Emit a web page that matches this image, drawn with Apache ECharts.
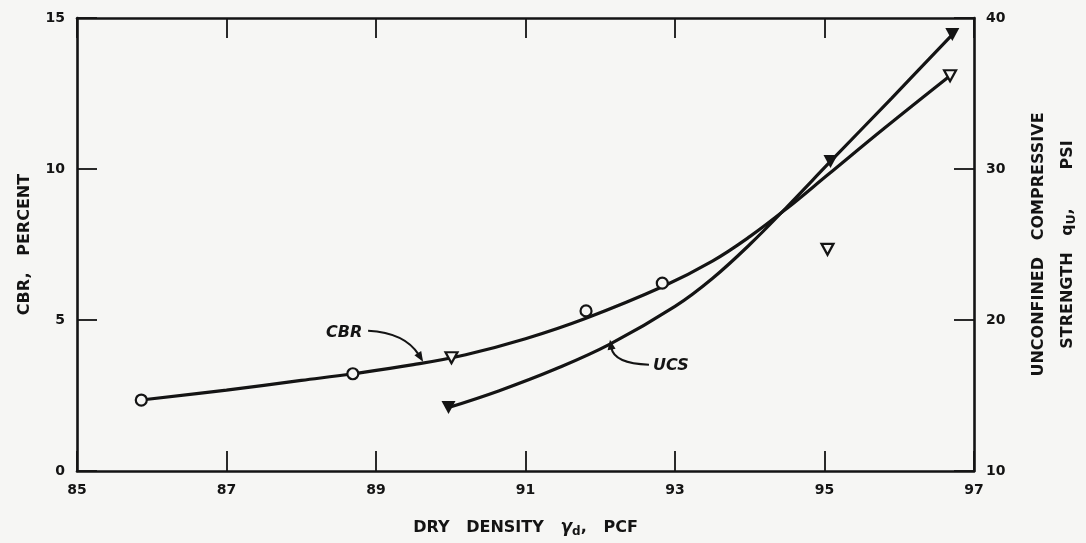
<!DOCTYPE html>
<html>
<head>
<meta charset="utf-8">
<script src="https://cdn.jsdelivr.net/npm/echarts@6/dist/echarts.min.js"></script>
<style>
html,body{margin:0;padding:0;background:#f6f6f4;}
#chart{width:1086px;height:543px;}
</style>
</head>
<body>
<div id="chart"></div>
<script>
// ---- data ----
var xTicks = [85, 87, 89, 91, 93, 95, 97];
var cbrTicks = [0, 5, 10, 15];
var ucsTicks = [10, 20, 30, 40];

// CBR test points (open circles) : [dry density, CBR %]
var cbrCircles = [[85.86, 2.35], [88.69, 3.22], [91.81, 5.30], [92.83, 6.22]];
// CBR test points (open triangles)
var cbrTriangles = [[90.01, 3.75], [95.04, 7.34], [96.68, 13.09]];
// UCS test points (filled triangles) : [dry density, q_u psi]
var ucsTriangles = [[89.97, 14.2], [95.08, 30.5], [96.71, 38.9]];

// fitted curves
var cbrCurve = [[85.86, 2.35], [87.0, 2.68], [88.0, 3.0], [88.69, 3.22], [89.5, 3.52], [90.2, 3.85], [91.0, 4.38],
                [91.8, 5.05], [92.83, 6.1], [93.5, 6.95], [94.0, 7.76], [94.5, 8.7], [95.04, 9.8], [95.8, 11.35], [96.68, 13.09]];
var ucsCurve = [[89.97, 14.2], [90.64, 15.3], [91.4, 16.75], [92.13, 18.4], [93.0, 20.9], [93.5, 22.75], [94.0, 25.0],
                [94.5, 27.5], [95.08, 30.5], [95.9, 34.7], [96.71, 38.9]];

var INK = '#141414';
var BG = '#f6f6f4';
var FONT = 'DejaVu Sans';

var chart = echarts.init(document.getElementById('chart'), null, {renderer: 'canvas'});

function axisBase(extra) {
  var a = {
    type: 'value',
    axisLine: {show: true, onZero: false, lineStyle: {color: INK, width: 2.6}},
    axisTick: {show: true, inside: true, length: 20, lineStyle: {color: INK, width: 1.8}},
    splitLine: {show: false},
    axisLabel: {color: INK, fontFamily: FONT, fontWeight: 'bold', fontSize: 14, margin: 12}
  };
  return Object.assign(a, extra);
}

var option = {
  backgroundColor: BG,
  animation: false,
  grid: {left: 77, right: 106, top: 18, bottom: 70},
  xAxis: [
    axisBase({
      min: xTicks[0], max: xTicks[xTicks.length - 1], interval: 2,
      position: 'bottom',
      name: '{t|DRY   DENSITY   }{g|γ}{s|d}{t|,   PCF}',
      nameLocation: 'middle', nameGap: 46,
      nameTextStyle: {
        rich: {
          t: {fontFamily: FONT, fontWeight: 'bold', fontSize: 16, color: INK},
          g: {fontFamily: FONT, fontWeight: 'bold', fontStyle: 'italic', fontSize: 17, color: INK},
          s: {fontFamily: FONT, fontWeight: 'bold', fontSize: 12, color: INK, padding: [9, 0, 0, 0]}
        }
      }
    }),
    axisBase({
      min: xTicks[0], max: xTicks[xTicks.length - 1], interval: 2,
      position: 'top',
      axisLabel: {show: false}
    })
  ],
  yAxis: [
    axisBase({
      min: cbrTicks[0], max: cbrTicks[cbrTicks.length - 1], interval: 5,
      position: 'left',
      name: 'CBR,   PERCENT',
      nameLocation: 'middle', nameRotate: 90, nameGap: 44,
      nameTextStyle: {fontFamily: FONT, fontWeight: 'bold', fontSize: 16, color: INK}
    }),
    axisBase({
      min: ucsTicks[0], max: ucsTicks[ucsTicks.length - 1], interval: 10,
      position: 'right',
      name: '{t|UNCONFINED   COMPRESSIVE}\n{t|STRENGTH   q}{s|U}{t|,       PSI}',
      nameLocation: 'middle', nameRotate: 90, nameGap: 50,
      nameTextStyle: {
        align: 'center',
        rich: {
          t: {fontFamily: FONT, fontWeight: 'bold', fontSize: 16, color: INK, lineHeight: 29},
          s: {fontFamily: FONT, fontWeight: 'bold', fontSize: 12, color: INK, padding: [9, 0, 0, 0], lineHeight: 29}
        }
      }
    })
  ],
  series: [
    {
      name: 'CBR curve', type: 'line', xAxisIndex: 0, yAxisIndex: 0,
      data: cbrCurve, smooth: 0.4, showSymbol: false,
      lineStyle: {color: INK, width: 3.2}, z: 2
    },
    {
      name: 'UCS curve', type: 'line', xAxisIndex: 0, yAxisIndex: 1,
      data: ucsCurve, smooth: 0.4, showSymbol: false,
      lineStyle: {color: INK, width: 3.2}, z: 2
    },
    {
      name: 'CBR circles', type: 'scatter', xAxisIndex: 0, yAxisIndex: 0,
      data: cbrCircles, symbol: 'circle', symbolSize: 11,
      itemStyle: {color: BG, borderColor: INK, borderWidth: 2.2, opacity: 1}, z: 5
    },
    {
      name: 'CBR triangles', type: 'scatter', xAxisIndex: 0, yAxisIndex: 0,
      data: cbrTriangles, symbol: 'triangle', symbolRotate: 180, symbolSize: [12, 11],
      itemStyle: {color: BG, borderColor: INK, borderWidth: 2.2, opacity: 1}, z: 5
    },
    {
      name: 'UCS triangles', type: 'scatter', xAxisIndex: 0, yAxisIndex: 1,
      data: ucsTriangles, symbol: 'triangle', symbolRotate: 180, symbolSize: [14, 13],
      itemStyle: {color: INK, opacity: 1}, z: 5
    }
  ]
};

chart.setOption(option);

// ---- curved arrow annotations ----
function arrow(tip, start, ctrl, text, textPos) {
  var dx = tip[0] - ctrl[0], dy = tip[1] - ctrl[1];
  var len = Math.sqrt(dx * dx + dy * dy);
  var ux = dx / len, uy = dy / len;
  var hl = 10, hw = 4;
  var bx = tip[0] - ux * hl, by = tip[1] - uy * hl;
  return [
    {
      type: 'bezierCurve', z: 10,
      shape: {x1: start[0], y1: start[1], cpx1: ctrl[0], cpy1: ctrl[1], x2: bx + ux * 2, y2: by + uy * 2},
      style: {stroke: INK, lineWidth: 2, fill: null}
    },
    {
      type: 'polygon', z: 10,
      shape: {points: [tip, [bx - uy * hw, by + ux * hw], [bx + uy * hw, by - ux * hw]]},
      style: {fill: INK}
    },
    {
      type: 'text', z: 10, x: textPos[0], y: textPos[1],
      style: {text: text, fill: INK, font: 'italic bold 16px "DejaVu Sans"', align: 'center', verticalAlign: 'middle'}
    }
  ];
}

var cbrTip = chart.convertToPixel({xAxisIndex: 0, yAxisIndex: 0}, [89.63, 3.62]);
var ucsTip = chart.convertToPixel({xAxisIndex: 0, yAxisIndex: 1}, [92.13, 18.7]);

var g = [].concat(
  arrow(cbrTip, [cbrTip[0] - 55, cbrTip[1] - 31], [cbrTip[0] - 18, cbrTip[1] - 29], 'CBR', [cbrTip[0] - 79, cbrTip[1] - 29]),
  arrow(ucsTip, [ucsTip[0] + 39, ucsTip[1] + 25], [ucsTip[0] + 4, ucsTip[1] + 24], 'UCS', [ucsTip[0] + 61, ucsTip[1] + 26])
);
chart.setOption({graphic: g});
</script>
</body>
</html>
